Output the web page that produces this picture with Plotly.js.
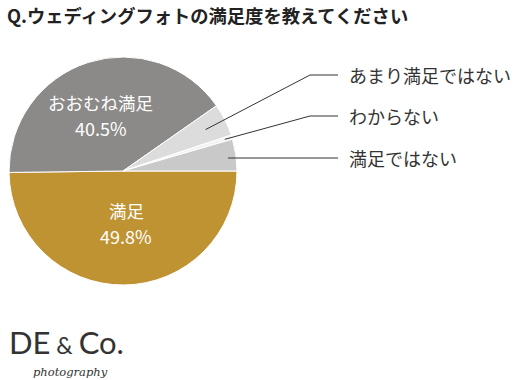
<!DOCTYPE html>
<html><head><meta charset="utf-8">
<script src="https://cdn.plot.ly/plotly-3.0.1.min.js"></script>
<style>html,body{margin:0;padding:0;background:#fff}#c{width:521px;height:380px}</style>
</head><body><div id="c"></div>
<script>
const labels = ["満足","おおむね満足","あまり満足ではない","わからない","満足ではない"];
const values = [49.8, 40.5, 4.6, 0.6, 4.5];
const colors = ["#BF9332","#8C8A88","#DCDCDC","#F3F3F3","#C9C9C9"];
const insideLabels = [0,1];
const outsideLabels = [2,3,4];

const W=521,H=380;
const cx=123, cy=171, R=114;
const px=x=>x/W, py=y=>1-y/H;
const total = values.reduce((a,b)=>a+b,0);
const startDeg = 90;
let cum=0; const mids=[];
values.forEach(v=>{const a0=startDeg+cum/total*360; cum+=v; const a1=startDeg+cum/total*360; mids.push((a0+a1)/2);});
const pt=(deg,r)=>[cx+Math.sin(deg*Math.PI/180)*r, cy-Math.cos(deg*Math.PI/180)*r];

const font="'Noto Sans CJK JP', 'Noto Sans', sans-serif";
const annotations=[], shapes=[];
const insideR=[0.46,0.52], insideShift=[3,-4];
insideLabels.forEach((i,k)=>{
  const [x,y]=pt(mids[i],insideR[k]*R);
  annotations.push({xref:'paper',yref:'paper',x:px(x),y:py(y),xshift:insideShift[k],yshift:12.5,text:labels[i],showarrow:false,font:{family:font,size:17.5,color:'#fff'},xanchor:'center',yanchor:'middle'});
  annotations.push({xref:'paper',yref:'paper',x:px(x),y:py(y),xshift:insideShift[k],yshift:-13,text:values[i].toFixed(1)+'%',showarrow:false,font:{family:font,size:18,color:'#fff'},xanchor:'center',yanchor:'middle'});
});
const anchorR=[0.81,0.935,0.93];
const labelY=[75,116,158];
outsideLabels.forEach((i,k)=>{
  const [ax,ay]=pt(mids[i],anchorR[k]*R);
  const ey=labelY[k];
  const path = k<2 ? `M ${ax} ${ay} L 310 ${ey} L 338 ${ey}` : `M ${ax} ${ey} L 338 ${ey}`;
  shapes.push({type:'path',xref:'paper',yref:'paper',path:path.replace(/(\d+\.?\d*) (\d+\.?\d*)/g,(m,a,b)=>px(+a)+' '+py(+b)),line:{color:'#333',width:1}});
  annotations.push({xref:'paper',yref:'paper',x:px(347),y:py(ey),text:labels[i],showarrow:false,font:{family:font,size:18,color:'#333'},xanchor:'left',yanchor:'middle'});
});
annotations.push({xref:'paper',yref:'paper',x:px(5),y:py(15),text:'<b>Q.ウェディングフォトの満足度を教えてください</b>',showarrow:false,font:{family:font,size:18.3,color:'#222'},xanchor:'left',yanchor:'middle'});
annotations.push({xref:'paper',yref:'paper',x:px(7),y:py(342),text:'DE<span style="font-size:23px"> & </span>Co.',showarrow:false,font:{family:"Lato, 'Open Sans', sans-serif",size:31,color:'#333'},xanchor:'left',yanchor:'middle'});
annotations.push({xref:'paper',yref:'paper',x:px(31),y:py(372),text:'<i>photography</i>',showarrow:false,font:{family:"'DejaVu Serif', 'Liberation Serif', serif",size:11.5,color:'#333'},xanchor:'left',yanchor:'middle'});

const trace={type:'pie',labels:labels,values:values,sort:false,direction:'clockwise',rotation:90,
  marker:{colors:colors,line:{color:'#fff',width:1}},textinfo:'none',hoverinfo:'skip',showlegend:false,
  domain:{x:[px(cx-R),px(cx+R)],y:[py(cy+R),py(cy-R)]}};
Plotly.newPlot('c',[trace],{width:W,height:H,margin:{l:0,r:0,t:0,b:0},paper_bgcolor:'#fff',showlegend:false,annotations:annotations,shapes:shapes},{displayModeBar:false,staticPlot:true});
</script></body></html>
